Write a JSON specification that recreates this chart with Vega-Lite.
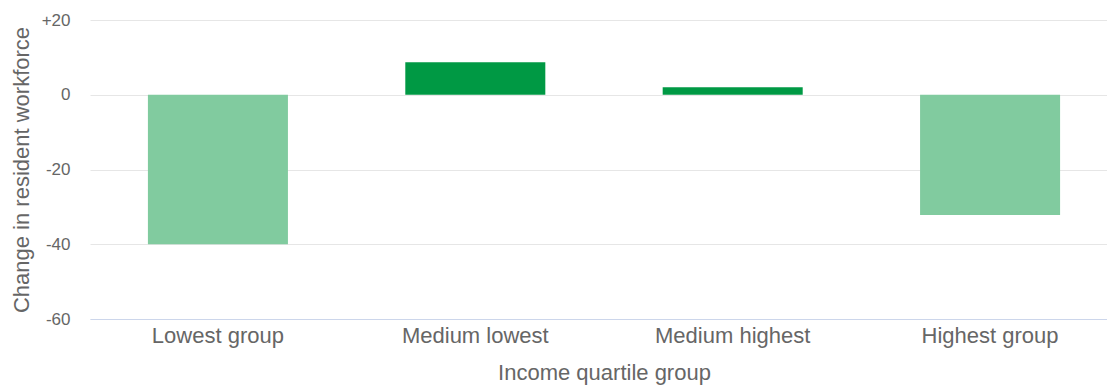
{
  "$schema": "https://vega.github.io/schema/vega-lite/v6.json",
  "width": 1028,
  "height": 299,
  "autosize": {"type": "none"},
  "padding": {"left": 90, "top": 20, "right": 0, "bottom": 66},
  "background": "white",
  "config": {
    "view": {"stroke": null},
    "font": "Liberation Sans"
  },
  "data": {
    "values": [
      {"group": "Lowest group", "change": -40.0},
      {"group": "Medium lowest", "change": 8.7},
      {"group": "Medium highest", "change": 2.0},
      {"group": "Highest group", "change": -32.2}
    ]
  },
  "mark": {"type": "bar"},
  "encoding": {
    "x": {
      "field": "group",
      "type": "nominal",
      "sort": null,
      "scale": {"paddingInner": 0.456, "paddingOuter": 0.225},
      "axis": {
        "title": "Income quartile group",
        "titleFont": "Liberation Sans",
        "titleFontSize": 22,
        "titleFontWeight": "normal",
        "titleColor": "#666666",
        "titlePadding": 16,
        "labelAngle": 0,
        "labelFontSize": 22,
        "labelColor": "#666666",
        "labelPadding": 6,
        "ticks": false,
        "domainColor": "#ccd6eb",
        "domainWidth": 1,
        "grid": false
      }
    },
    "y": {
      "field": "change",
      "type": "quantitative",
      "scale": {"domain": [-60, 20], "nice": false},
      "axis": {
        "values": [-60, -40, -20, 0, 20],
        "labelExpr": "datum.value > 0 ? '+' + datum.value : '' + datum.value",
        "title": "Change in resident workforce",
        "titleFont": "Liberation Sans",
        "titleFontSize": 22,
        "titleFontWeight": "normal",
        "titleColor": "#666666",
        "titlePadding": 8,
        "labelFontSize": 17,
        "labelColor": "#666666",
        "labelPadding": 20,
        "ticks": false,
        "domain": false,
        "grid": true,
        "gridColor": "#e6e6e6",
        "gridWidth": 1
      }
    },
    "color": {
      "condition": {"test": "datum.change < 0", "value": "#81cb9f"},
      "value": "#009944"
    }
  }
}
